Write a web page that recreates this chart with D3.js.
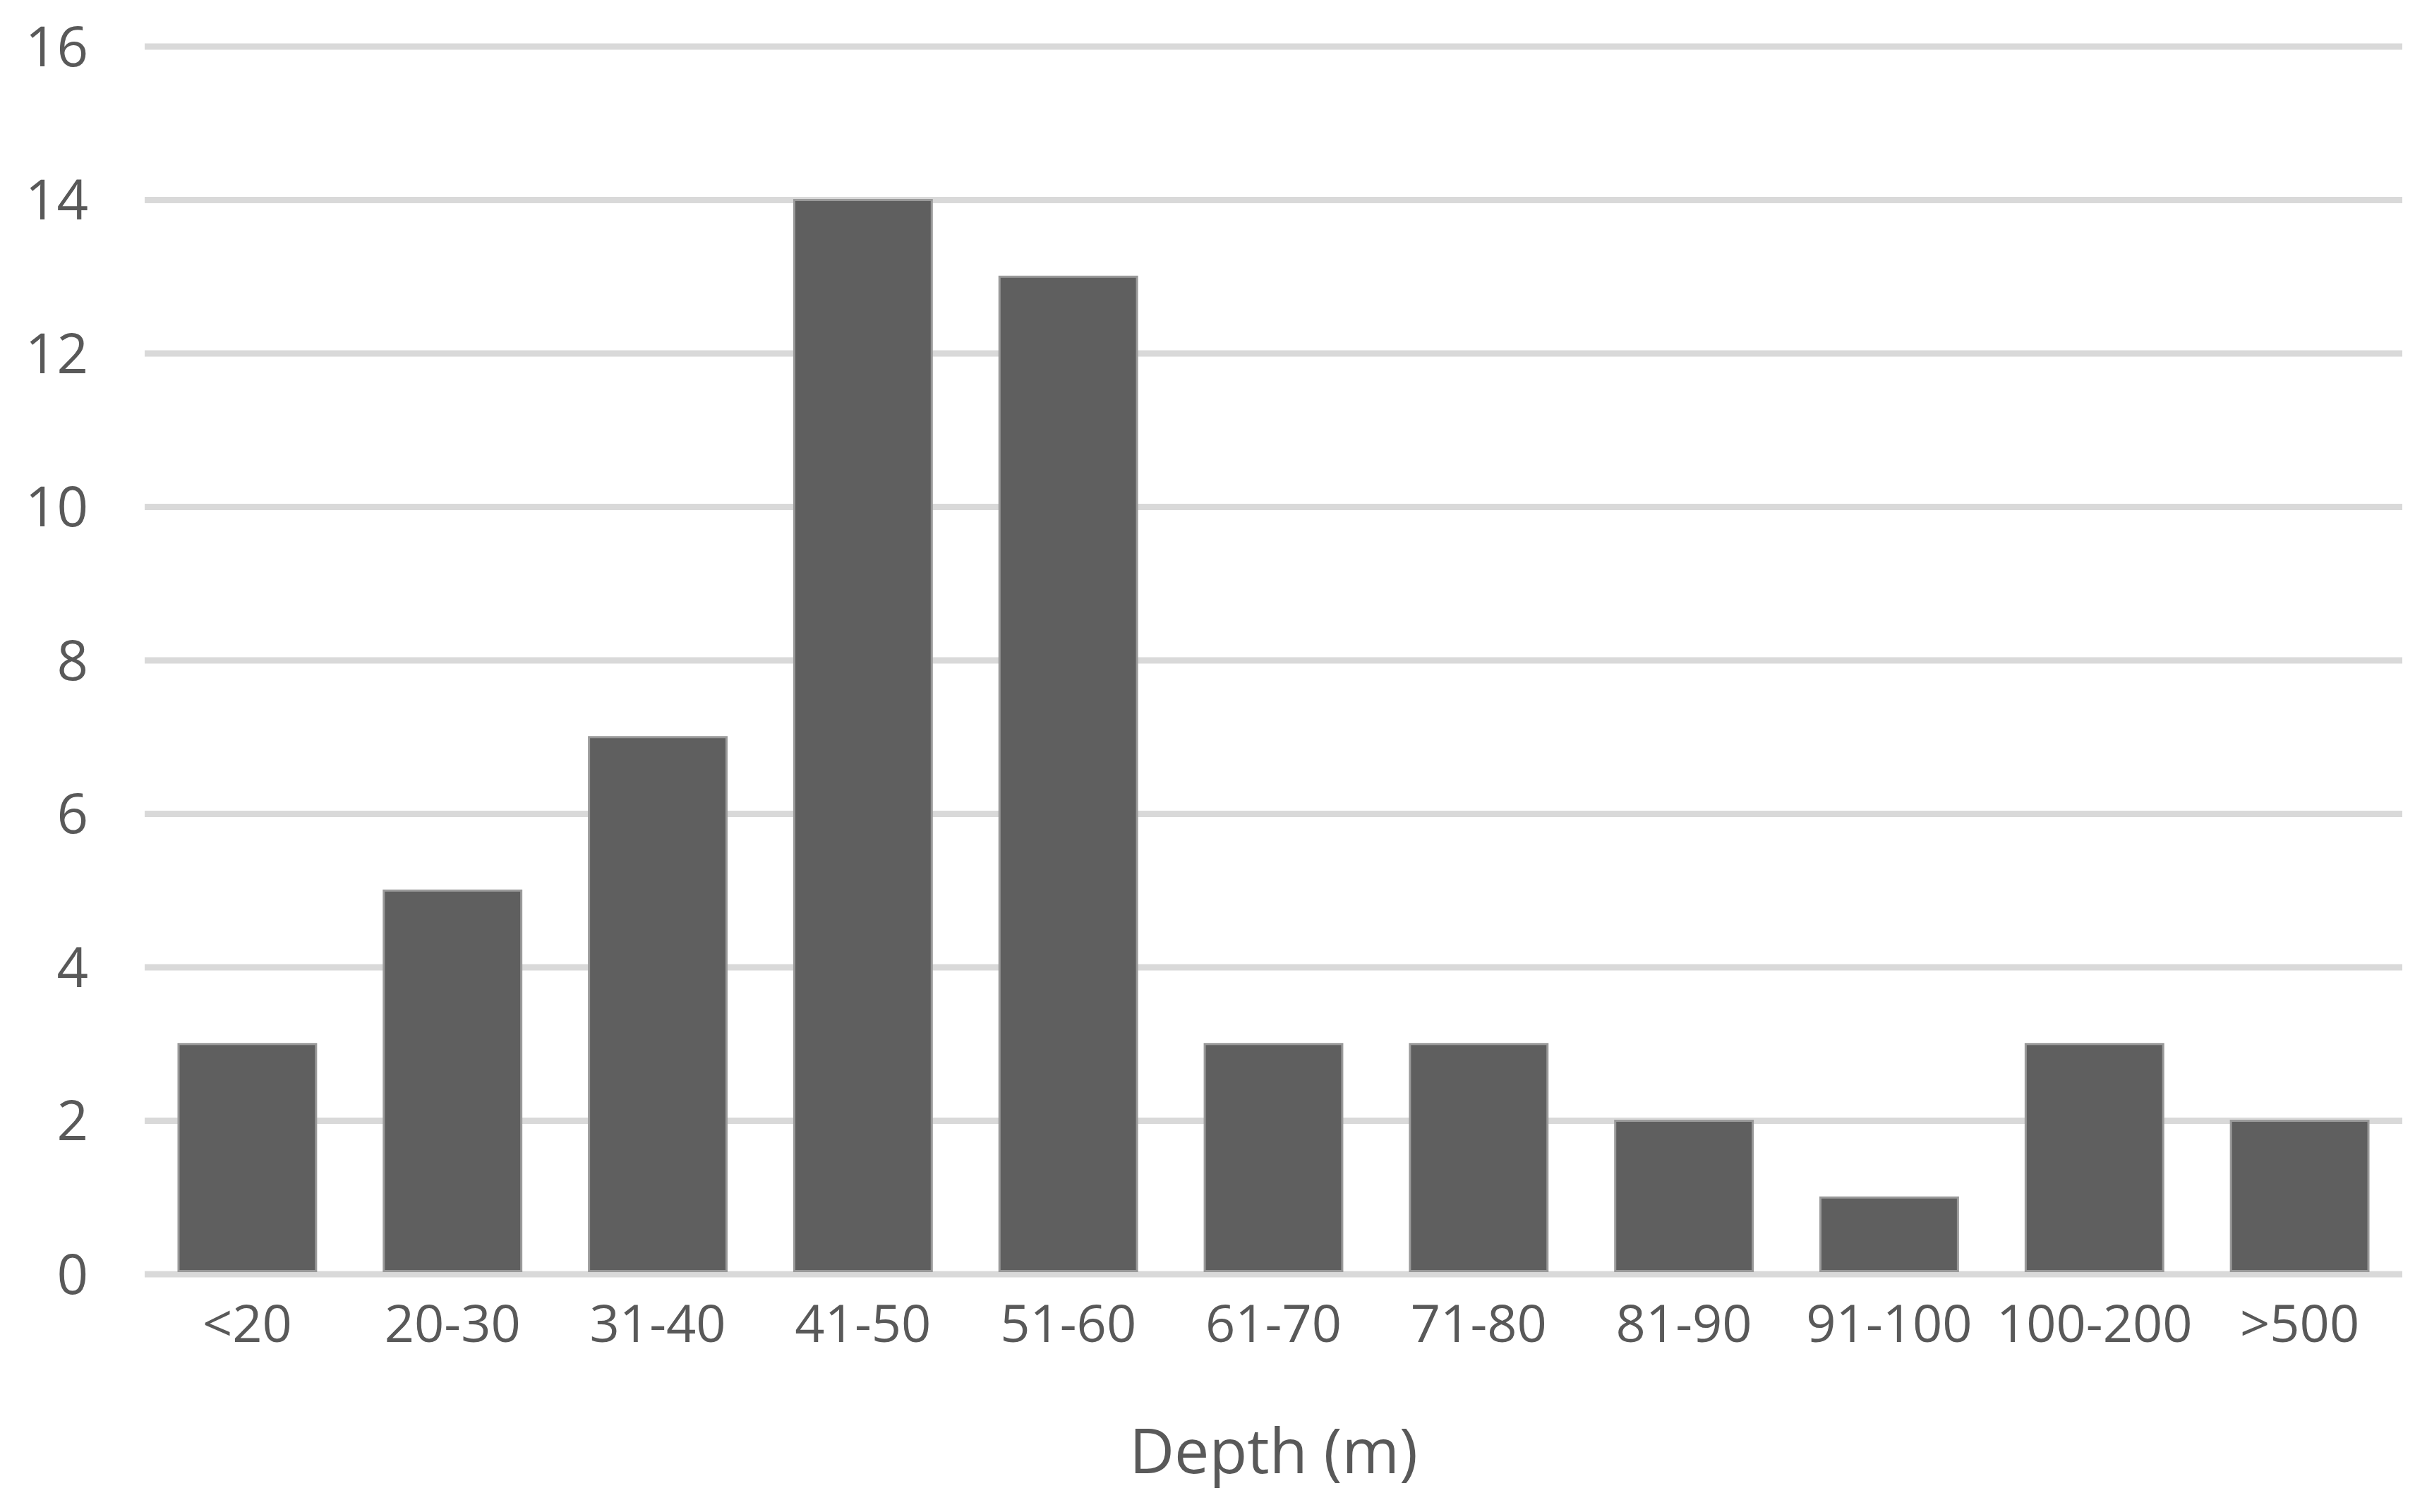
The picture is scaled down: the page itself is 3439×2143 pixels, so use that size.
<!DOCTYPE html>
<html>
<head>
<meta charset="utf-8">
<script src="https://cdn.jsdelivr.net/npm/d3@7"></script>
<style>
  body { margin: 0; background: #fff; }
  text { font-family: "Open Sans", "Noto Sans", sans-serif; fill: #595959; }
</style>
</head>
<body>
<svg id="chart"></svg>
<script>
const categories = ['<20', '20-30', '31-40', '41-50', '51-60', '61-70', '71-80', '81-90', '91-100', '100-200', '>500']
const counts = [3, 5, 7, 14, 13, 3, 3, 2, 1, 3, 2]
const yTicks = [0, 2, 4, 6, 8, 10, 12, 14, 16]

const width = 3439
const height = 2143
const margin = {top: 66, right: 35, bottom: 337, left: 205}

const svg = d3.select('#chart')
  .attr('width', width)
  .attr('height', height)

const x = d3.scaleBand()
  .domain(categories)
  .range([margin.left, width - margin.right])
  .paddingInner(0.33)
  .paddingOuter(0.165)

const y = d3.scaleLinear()
  .domain([0, 16])
  .range([height - margin.bottom, margin.top])

// gridlines
svg.append('g')
  .selectAll('line')
  .data(yTicks)
  .enter()
    .append('line')
    .attr('x1', margin.left)
    .attr('x2', width - margin.right)
    .attr('y1', d => y(d))
    .attr('y2', d => y(d))
    .attr('stroke', '#d9d9d9')
    .attr('stroke-width', 9)

// y labels
const yAxis = svg.append('g')
  .attr('transform', `translate(${margin.left - 80},0)`)
  .call(d3.axisLeft(y).tickValues(yTicks).tickSize(0).tickPadding(0))
yAxis.select('.domain').remove()
yAxis.selectAll('text')
  .attr('font-size', 78)
  .attr('dy', '0.35em')

// bars
svg.append('g')
  .selectAll('rect')
  .data(counts)
  .enter()
    .append('rect')
    .attr('x', (d, i) => x(categories[i]))
    .attr('width', x.bandwidth())
    .attr('y', d => y(d))
    .attr('height', d => y(0) - y(d) - 4.5)
    .attr('fill', '#5f5f5f')
    .attr('stroke', '#9a9a9a')
    .attr('stroke-width', 3)

// x labels
const xAxis = svg.append('g')
  .attr('transform', `translate(0,${y(0) + 70})`)
  .call(d3.axisBottom(x).tickSize(0).tickPadding(0))
xAxis.select('.domain').remove()
xAxis.selectAll('text')
  .attr('font-size', 74)
  .attr('dy', '0.35em')
  .style('text-anchor', 'middle')

svg.append('text')
  .attr('x', (margin.left + width - margin.right) / 2)
  .attr('y', 2057)
  .attr('dy', '0.35em')
  .attr('text-anchor', 'middle')
  .attr('font-size', 88)
  .text('Depth (m)')
</script>
</body>
</html>
